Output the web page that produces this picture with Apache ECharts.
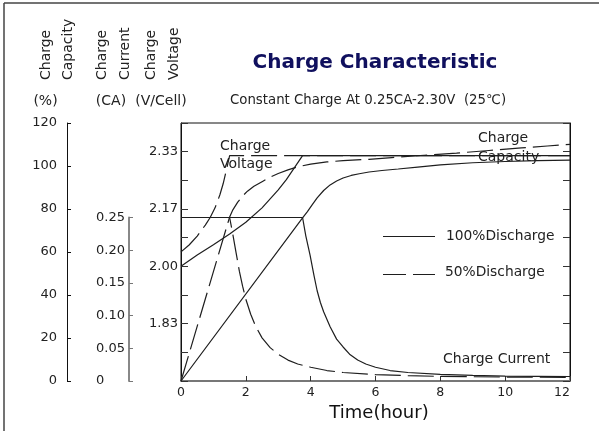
<!DOCTYPE html>
<html><head><meta charset="utf-8">
<script src="https://cdn.jsdelivr.net/npm/echarts@6/dist/echarts.min.js"></script>
<style>html,body{margin:0;padding:0;background:#fff}#c{width:599px;height:431px}</style>
</head><body><div id="c"></div>
<script>
// ---- data ----
const xTicks = [0, 2, 4, 6, 8, 10, 12];
const voltageTickLabels = ['1.83', '2.00', '2.17', '2.33'];
const legendNames = ['100%Discharge', '50%Discharge'];

// 100% discharge – charge voltage (V/Cell)
const timeV100 = [0, 0.5, 1.0, 1.5, 2.0, 2.5, 3.0, 3.25, 3.5, 3.75, 12];
const volt100  = [2.000, 2.033, 2.063, 2.094, 2.128, 2.170, 2.222, 2.252, 2.287, 2.322, 2.322];
// 50% discharge – charge voltage
const timeV50 = [0, 0.25, 0.5, 0.75, 0.9, 1.05, 1.2, 1.3, 1.4, 1.5, 12];
const volt50  = [2.042, 2.062, 2.088, 2.120, 2.142, 2.170, 2.208, 2.240, 2.280, 2.322, 2.322];

// 100% discharge – charge capacity (%)
const timeC100 = [0, 3.75, 3.9, 4.05, 4.2, 4.4, 4.6, 4.8, 5.0, 5.25, 5.5, 5.8, 6.2, 6.7, 7.3, 8.0, 9.0, 10.0, 11.0, 12.0];
const cap100   = [0, 75.9, 78.8, 82.0, 85.2, 88.6, 91.2, 93.0, 94.4, 95.6, 96.4, 97.2, 97.9, 98.6, 99.5, 100.5, 101.5, 102.1, 102.5, 102.7];
// 50% discharge – charge capacity
const timeC50 = [0, 1.5, 1.6, 1.75, 1.9, 2.05, 2.25, 2.5, 2.75, 3.0, 3.3, 3.6, 4.0, 4.5, 5.0, 5.8, 6.5, 7.5, 8.5, 9.5, 10.5, 11.3, 12.0];
const cap50   = [0, 76.3, 79.6, 83.2, 86.0, 88.3, 90.6, 92.7, 94.8, 96.5, 98.2, 99.6, 100.9, 101.9, 102.5, 103.1, 103.9, 105.0, 106.0, 107.2, 108.4, 109.3, 110.1];

// 100% discharge – charge current (CA)
const timeI100 = [0, 3.75, 3.85, 3.98, 4.1, 4.2, 4.3, 4.4, 4.6, 4.8, 5.0, 5.2, 5.45, 5.7, 6.0, 6.45, 7.0, 8.0, 9.0, 10.0, 11.0, 12.0];
const cur100   = [0.25, 0.25, 0.222, 0.193, 0.162, 0.138, 0.120, 0.106, 0.083, 0.064, 0.052, 0.041, 0.032, 0.026, 0.021, 0.016, 0.013, 0.010, 0.0085, 0.0076, 0.0072, 0.0069];
// 50% discharge – charge current
const timeI50 = [0, 1.5, 1.6, 1.7, 1.8, 1.9, 2.0, 2.15, 2.3, 2.5, 2.75, 3.0, 3.3, 3.6, 4.0, 4.5, 5.0, 6.0, 7.0, 8.0, 10.0, 12.0];
const cur50   = [0.25, 0.25, 0.224, 0.196, 0.168, 0.145, 0.125, 0.102, 0.084, 0.066, 0.051, 0.041, 0.032, 0.026, 0.021, 0.016, 0.013, 0.0098, 0.0082, 0.007, 0.006, 0.0055];

// ---- chart ----
const FONT = 'DejaVu Sans';
const INK = '#1e1e1e';
const DASH = [26, 7];
const zip = (a, b) => a.map((t, i) => [t, b[i]]);
const chart = echarts.init(document.getElementById('c'), null, {renderer: 'canvas'});

function txt(x, y, text, size, opts) {
  return Object.assign({type: 'text', x: x, y: y, silent: true,
    style: Object.assign({text: text, fontSize: size, fontFamily: FONT, fill: '#222', align: 'left', verticalAlign: 'middle'}, (opts && opts.style) || {})},
    (opts && opts.el) || {});
}
const ROT = {el: {rotation: Math.PI / 2}};

function lineSeries(name, xi, yi, data, dashed) {
  return {name: name, type: 'line', xAxisIndex: xi, yAxisIndex: yi, data: data, symbol: 'none', showSymbol: false,
    clip: false, smooth: false,
    lineStyle: {color: INK, width: 1.2, type: dashed ? DASH : 'solid'}, itemStyle: {color: INK}};
}

const option = {
  animation: false,
  backgroundColor: '#fff',
  textStyle: {fontFamily: FONT},
  grid: [
    {left: 181, right: 29, top: 123, bottom: 50, show: true, borderColor: '#111', borderWidth: 1, backgroundColor: 'transparent'},
    {left: 181, right: 29, top: 217.5, bottom: 50, show: false}
  ],
  xAxis: [
    {gridIndex: 0, type: 'value', min: xTicks[0], max: xTicks[xTicks.length - 1], interval: 2,
     axisLine: {onZero: false, lineStyle: {color: '#777', width: 2}},
     axisTick: {inside: true, length: 5, lineStyle: {color: '#333'}},
     axisLabel: {fontSize: 12.5, color: '#222', margin: 5, alignMaxLabel: 'right', fontFamily: FONT},
     splitLine: {show: false},
     name: 'Time(hour)', nameLocation: 'middle', nameGap: 21,
     nameTextStyle: {fontSize: 18, color: '#111', fontFamily: FONT, padding: [0, 0, 0, 7]}},
    {gridIndex: 1, type: 'value', min: 0, max: 12, show: false, axisLine: {onZero: false}}
  ],
  yAxis: [
    {gridIndex: 0, type: 'value', position: 'left', offset: 0, min: 20 / 12, max: 29 / 12, interval: 1 / 12,
     axisLine: {show: true, onZero: false, lineStyle: {color: '#111', width: 1}},
     axisTick: {show: true, inside: true, length: 7, lineStyle: {color: '#333'}},
     axisLabel: {fontSize: 13, color: '#222', margin: 3, fontFamily: FONT,
       formatter: v => { const k = Math.round(v * 12); return (k % 2 === 0 && k >= 22 && k <= 28) ? voltageTickLabels[(k - 22) / 2] : ''; }},
     splitLine: {show: false}},
    {gridIndex: 0, type: 'value', position: 'left', offset: 114, min: 0, max: 120, interval: 20,
     axisLine: {show: true, onZero: false, lineStyle: {color: '#111', width: 1}},
     axisTick: {show: true, inside: true, length: 4, lineStyle: {color: '#111'}},
     axisLabel: {fontSize: 13, color: '#222', margin: 10, fontFamily: FONT},
     splitLine: {show: false}},
    {gridIndex: 0, type: 'value', position: 'right', offset: 0, min: 20 / 12, max: 29 / 12, interval: 1 / 12,
     axisLine: {show: true, onZero: false, lineStyle: {color: '#111', width: 1}},
     axisTick: {show: true, inside: true, length: 7, lineStyle: {color: '#333'}},
     axisLabel: {show: false}, splitLine: {show: false}},
    {gridIndex: 1, type: 'value', position: 'left', offset: 52, min: 0, max: 0.25, interval: 0.05,
     axisLine: {show: true, onZero: false, lineStyle: {color: '#888', width: 2}},
     axisTick: {show: true, inside: true, length: 4, lineStyle: {color: '#777'}},
     axisLabel: {fontSize: 13, color: '#222', margin: 33, align: 'left', fontFamily: FONT,
       formatter: v => v === 0 ? '0' : v.toFixed(2)},
     splitLine: {show: false}}
  ],
  series: [
    lineSeries(legendNames[1], 0, 0, zip(timeV50, volt50), true),
    lineSeries(legendNames[1], 0, 1, zip(timeC50, cap50), true),
    lineSeries(legendNames[1], 1, 3, zip(timeI50, cur50), true),
    lineSeries(legendNames[0], 0, 0, zip(timeV100, volt100), false),
    lineSeries(legendNames[0], 0, 1, zip(timeC100, cap100), false),
    lineSeries(legendNames[0], 1, 3, zip(timeI100, cur100), false)
  ],
  graphic: [
    {type: 'line', silent: true, shape: {x1: 4, y1: 3, x2: 4, y2: 431}, style: {stroke: '#444', lineWidth: 1.5}},
    {type: 'line', silent: true, shape: {x1: 4, y1: 3, x2: 599, y2: 3}, style: {stroke: '#444', lineWidth: 1.5}},
    // legend
    {type: 'line', silent: true, shape: {x1: 383, y1: 236.5, x2: 435, y2: 236.5}, style: {stroke: INK, lineWidth: 1.2}},
    {type: 'line', silent: true, shape: {x1: 383, y1: 274.5, x2: 435, y2: 274.5}, style: {stroke: INK, lineWidth: 1.2, lineDash: [23, 7]}},
    txt(446, 236.5, legendNames[0], 13.8),
    txt(445, 272.5, legendNames[1], 13.8),
    // axis headers
    txt(46, 80, 'Charge', 14, ROT),
    txt(68, 80, 'Capacity', 14, ROT),
    txt(102.5, 80, 'Charge', 14, ROT),
    txt(125.5, 80, 'Current', 14, ROT),
    txt(151, 80, 'Charge', 14, ROT),
    txt(174.5, 80, 'Voltage', 14, ROT),
    txt(45.5, 101.5, '(%)', 14, {style: {align: 'center'}}),
    txt(111, 101.5, '(CA)', 14, {style: {align: 'center'}}),
    txt(161, 101.5, '(V/Cell)', 14, {style: {align: 'center'}}),
    // titles
    txt(375, 63, 'Charge Characteristic', 20, {style: {align: 'center', fontWeight: 'bold', fill: '#10105e'}}),
    txt(230, 100.5, 'Constant Charge At 0.25CA-2.30V  (25℃)', 13.3, {style: {fill: '#222'}}),
    // curve labels
    txt(220, 146, 'Charge', 14),
    txt(220, 164.5, 'Voltage', 14),
    txt(478, 138.5, 'Charge', 14),
    txt(478, 157.5, 'Capacity', 14),
    txt(443, 359.5, 'Charge Current', 14)
  ]
};
chart.setOption(option);
</script>
</body></html>
